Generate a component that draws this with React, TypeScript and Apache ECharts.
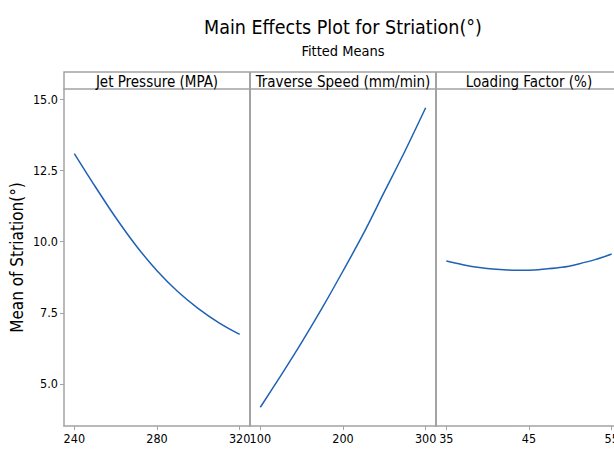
import React, { useEffect, useRef } from "react";
import * as echarts from "echarts";

const FONT = '"Liberation Sans Narrow", "DejaVu Sans Condensed", "Open Sans", sans-serif';

const panelTitles = ["Jet Pressure (MPA)", "Traverse Speed (mm/min)", "Loading Factor (%)"];

const jetPressure = [240, 250, 260, 270, 280, 290, 300, 310, 320];
const jetMeans = [13.1, 11.95, 10.85, 9.85, 8.98, 8.25, 7.65, 7.15, 6.74];

const traverseSpeed = [100, 125, 150, 175, 200, 225, 250, 275, 300];
const speedMeans = [4.18, 5.3, 6.46, 7.68, 8.97, 10.3, 11.75, 13.19, 14.71];

const loadingFactor = [35, 37, 39, 41, 43, 45, 47, 49, 51, 53, 55];
const loadMeans = [9.32, 9.19, 9.09, 9.03, 9.0, 9.0, 9.04, 9.1, 9.22, 9.37, 9.57];

const xTicks = [
  [240, 280, 320],
  [100, 200, 300],
  [35, 45, 55],
];
const xRanges = [
  [235, 325],
  [87.5, 312.5],
  [33.75, 56.25],
];
const yTicks = [5, 7.5, 10, 12.5, 15];
const yRange = [3.52, 15.37];

const LINE = "#1f61b5";
const GRAY = "#a3a3a3";
const TEXT = "#000";

export default function App() {
  const ref = useRef<HTMLDivElement>(null);
  useEffect(() => {
    if (!ref.current) return;
    const chart = echarts.init(ref.current, null, { renderer: "svg" });
    const left0 = 64;
    const pw = 186;
    const top = 89;
    const h = 337;
    const stripTop = 72;
    const grids = [0, 1, 2].map((i) => ({
      left: left0 + i * pw,
      top,
      width: pw,
      height: h,
    }));
    const series = [
      [jetPressure, jetMeans],
      [traverseSpeed, speedMeans],
      [loadingFactor, loadMeans],
    ].map(([xs, ys], i) => ({
      type: "line",
      xAxisIndex: i,
      yAxisIndex: i,
      data: xs.map((x, k) => [x, ys[k]]),
      showSymbol: false,
      smooth: 0.3,
      lineStyle: { color: LINE, width: 1.5 },
      silent: true,
    }));
    const graphics: any[] = [
      {
        type: "rect",
        shape: { x: left0, y: stripTop, width: pw * 3, height: top - stripTop },
        style: { fill: "#fff", stroke: GRAY, lineWidth: 1.5 },
      },
    ];
    panelTitles.forEach((t, i) => {
      graphics.push({
        type: "text",
        x: left0 + i * pw + pw / 2,
        y: (stripTop + top) / 2 + 1,
        style: {
          text: t,
          fill: TEXT,
          font: `15px ${FONT}`,
          textAlign: "center",
          textVerticalAlign: "middle",
        },
      });
      if (i > 0) {
        graphics.push({
          type: "line",
          shape: { x1: left0 + i * pw, y1: stripTop, x2: left0 + i * pw, y2: top + h },
          style: { stroke: GRAY, lineWidth: 2 },
        });
      }
    });
    chart.setOption({
      animation: false,
      backgroundColor: "#fff",
      title: {
        left: "center",
        top: 12,
        text: "Main Effects Plot for Striation(°)",
        subtext: "Fitted Means",
        itemGap: 6,
        textStyle: { fontFamily: FONT, fontSize: 19.5, fontWeight: "normal", color: TEXT },
        subtextStyle: { fontFamily: FONT, fontSize: 14.5, color: TEXT },
      },
      grid: grids,
      xAxis: [0, 1, 2].map((i) => ({
        type: "value",
        gridIndex: i,
        min: xRanges[i][0],
        max: xRanges[i][1],
        axisLine: { show: true, lineStyle: { color: GRAY, width: 1.5 } },
        axisTick: {
          show: true,
          length: 4,
          customValues: xTicks[i],
          lineStyle: { color: GRAY },
        },
        axisLabel: {
          customValues: xTicks[i],
          color: TEXT,
          fontFamily: FONT,
          fontSize: 12.5,
          margin: 6,
          showMinLabel: true,
          showMaxLabel: true,
        },
        splitLine: { show: false },
      })),
      yAxis: [0, 1, 2].map((i) => ({
        type: "value",
        gridIndex: i,
        min: yRange[0],
        max: yRange[1],
        name: i === 0 ? "Mean of Striation(°)" : "",
        nameLocation: "middle",
        nameRotate: 90,
        nameGap: 39,
        nameTextStyle: { fontFamily: FONT, fontSize: 17, color: TEXT },
        axisLine: { show: true, lineStyle: { color: GRAY, width: i === 0 ? 1.5 : 2 } },
        axisTick: {
          show: i === 0,
          length: 4,
          customValues: yTicks,
          lineStyle: { color: GRAY },
        },
        axisLabel: {
          show: i === 0,
          customValues: yTicks,
          formatter: (v: number) => v.toFixed(1),
          color: TEXT,
          fontFamily: FONT,
          fontSize: 12.5,
          margin: 6,
        },
        splitLine: { show: false },
      })),
      series,
      graphic: graphics,
    });
    return () => chart.dispose();
  }, []);
  return (
    <div
      style={{
        position: "fixed",
        left: 0,
        top: 0,
        width: 614,
        height: 449,
        overflow: "hidden",
        background: "#fff",
      }}
    >
      <div ref={ref} style={{ width: 686, height: 449 }} />
    </div>
  );
}
